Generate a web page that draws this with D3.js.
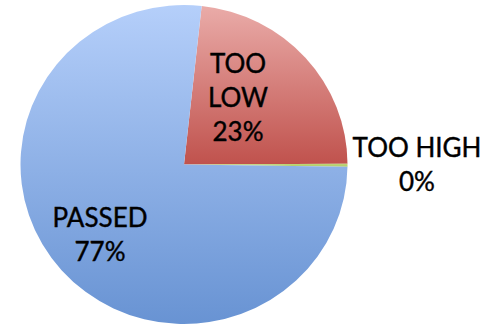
<!DOCTYPE html>
<html>
<head>
<meta charset="utf-8">
<script src="https://cdn.jsdelivr.net/npm/d3@7"></script>
<style>
  html, body { margin: 0; padding: 0; background: #fff; }
  svg { display: block; }
</style>
</head>
<body>
<svg id="chart" width="485" height="327"></svg>
<script>
// ---- data ----
const categories = ["TOO LOW", "TOO HIGH", "PASSED"];
const values = [23.2, 0.3, 76.5];
const labelLines = [["TOO", "LOW"], ["TOO HIGH"], ["PASSED"]];

// ---- layout ----
const W = 485, H = 327;
const cx = 184, cy = 164.5, rx = 163.5, ry = 159.5;
const startDeg = 6.2;
const svg = d3.select("#chart");

const defs = svg.append("defs");
const grads = [
  { id: "gLow", top: "#eaaca9", bottom: "#c0524d", y1: cy - ry, y2: cy },
  { id: "gHigh", top: "#c6dc86", bottom: "#b2cc66", y1: cy - 2, y2: cy + 2 },
  { id: "gPass", top: "#b5cffa", bottom: "#6893d3", y1: cy - ry, y2: cy + ry }
];
grads.forEach(g => {
  const lg = defs.append("linearGradient")
    .attr("id", g.id)
    .attr("gradientUnits", "userSpaceOnUse")
    .attr("x1", 0).attr("x2", 0)
    .attr("y1", g.y1 - cy).attr("y2", g.y2 - cy);
  lg.append("stop").attr("offset", "0%").attr("stop-color", g.top);
  lg.append("stop").attr("offset", "100%").attr("stop-color", g.bottom);
});

const data = categories.map((c, i) => ({ cat: c, value: values[i], lines: labelLines[i], grad: grads[i].id }));

const a0 = startDeg * Math.PI / 180;
const pie = d3.pie().value(d => d.value).sort(null)
  .startAngle(a0).endAngle(a0 + 2 * Math.PI);
const arcs = pie(data);

const arc = d3.arc().innerRadius(0).outerRadius(ry);

const g = svg.append("g")
  .attr("transform", `translate(${cx},${cy}) scale(${rx / ry},1)`);

g.selectAll("path.slice")
  .data(arcs)
  .join("path")
  .attr("class", "slice")
  .attr("d", arc)
  .attr("fill", d => `url(#${d.data.grad})`);

// ---- labels ----
const fmt = v => Math.round(v) + "%";
const lineH = 34;
const labelPos = {
  "TOO LOW": { x: 238, y: 72.7 },
  "TOO HIGH": { x: 417, y: 156.7 },
  "PASSED": { x: 100, y: 226.7 }
};

const labels = svg.append("g")
  .attr("font-family", "Lato, 'Open Sans', sans-serif")
  .attr("font-size", 26)
  .attr("fill", "#000")
  .attr("stroke", "#000")
  .attr("stroke-width", 0.4)
  .attr("text-anchor", "middle");

arcs.forEach(a => {
  const p = labelPos[a.data.cat];
  const lines = a.data.lines.concat([fmt(a.data.value)]);
  const t = labels.append("text").attr("x", p.x).attr("y", p.y);
  lines.forEach((ln, i) => {
    t.append("tspan").attr("x", p.x).attr("y", p.y + i * lineH).text(ln);
  });
});
</script>
</body>
</html>
